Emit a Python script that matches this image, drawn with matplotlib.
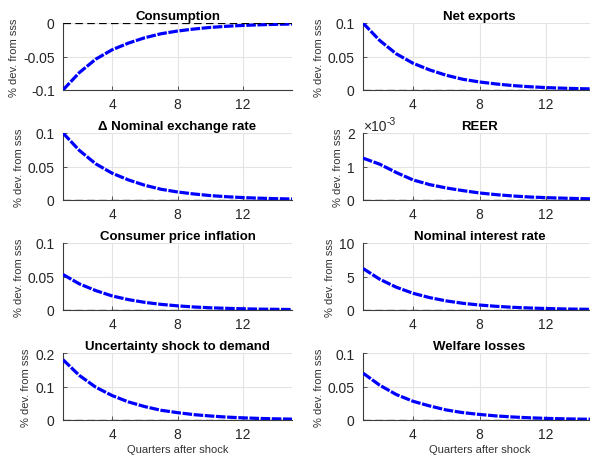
import numpy as np
import matplotlib
matplotlib.use("Agg")
import matplotlib.pyplot as plt
from matplotlib.ticker import FuncFormatter

plt.rcParams['font.family'] = ['Liberation Sans', 'DejaVu Sans']

quarters = np.arange(1, 16)

consumption = [-0.100, -0.074, -0.054, -0.040, -0.030, -0.022, -0.016, -0.012,
               -0.009, -0.0066, -0.0049, -0.0036, -0.0027, -0.0020, -0.0015]
net_exports = [0.100, 0.074, 0.054, 0.040, 0.030, 0.022, 0.016, 0.012,
               0.009, 0.0066, 0.0049, 0.0036, 0.0027, 0.0020, 0.0015]
d_ner = [0.100, 0.074, 0.054, 0.040, 0.030, 0.022, 0.016, 0.012,
         0.009, 0.0066, 0.0049, 0.0036, 0.0027, 0.0020, 0.0015]
reer = [1.25e-3, 1.07e-3, 0.82e-3, 0.60e-3, 0.46e-3, 0.36e-3, 0.28e-3, 0.21e-3,
        0.16e-3, 0.12e-3, 0.09e-3, 0.07e-3, 0.055e-3, 0.042e-3, 0.032e-3]
cpi = [0.053, 0.039, 0.029, 0.021, 0.0155, 0.0114, 0.0084, 0.0062,
       0.0045, 0.0033, 0.0025, 0.0018, 0.0013, 0.0010, 0.0007]
interest = [6.2, 4.6, 3.4, 2.5, 1.85, 1.36, 1.0, 0.74,
            0.55, 0.40, 0.30, 0.22, 0.16, 0.12, 0.09]
uncertainty = [0.18, 0.133, 0.098, 0.073, 0.054, 0.040, 0.029, 0.022,
               0.016, 0.012, 0.0087, 0.0064, 0.0047, 0.0035, 0.0026]
welfare = [0.070, 0.052, 0.038, 0.028, 0.021, 0.015, 0.011, 0.0083,
           0.0061, 0.0045, 0.0033, 0.0024, 0.0018, 0.0013, 0.0010]

titles = ['Consumption', 'Net exports', '\u0394 Nominal exchange rate', 'REER',
          'Consumer price inflation', 'Nominal interest rate',
          'Uncertainty shock to demand', 'Welfare losses']
series = [consumption, net_exports, d_ner, reer, cpi, interest, uncertainty, welfare]
ylims = [(-0.1, 0), (0, 0.1), (0, 0.1), (0, 2e-3), (0, 0.1), (0, 10), (0, 0.2), (0, 0.1)]
yticks = [[-0.1, -0.05, 0], [0, 0.05, 0.1], [0, 0.05, 0.1], [0, 1e-3, 2e-3],
          [0, 0.05, 0.1], [0, 5, 10], [0, 0.1, 0.2], [0, 0.05, 0.1]]

W, H = 590, 456
fig = plt.figure(figsize=(W / 100, H / 100), dpi=100)

col_left = [63, 363]
col_width = [229, 233]
row_top = [24, 134, 244, 354]
row_h = 67

for i in range(8):
    r, c = divmod(i, 2)
    ax = fig.add_axes([col_left[c] / W, 1 - (row_top[r] + row_h) / H,
                       col_width[c] / W, row_h / H])
    ax.plot(quarters, series[i], color='#0000ff', lw=2.3, dashes=(3.0, 0.5),
            solid_capstyle='butt', zorder=3)
    ax.axhline(0, color='black', lw=0.9, dashes=(6, 3.5), zorder=4)
    ax.set_xlim(1, 15)
    ax.set_ylim(*ylims[i])
    ax.set_xticks([4, 8, 12])
    ax.set_yticks(yticks[i])
    if i == 3:
        ax.yaxis.set_major_formatter(FuncFormatter(lambda v, p: '{:g}'.format(round(v * 1000, 6))))
        ax.text(0.0, 1.0, '\u00d710', transform=ax.transAxes, fontsize=10,
                color='#262626', ha='left', va='bottom')
        ax.text(0.1, 1.1, '-3', transform=ax.transAxes, fontsize=7.5,
                color='#262626', ha='left', va='bottom')
    else:
        ax.yaxis.set_major_formatter(FuncFormatter(lambda v, p: '{:g}'.format(round(v, 6))))
    ax.grid(True, color='#e3e3e3', lw=0.8)
    ax.set_axisbelow(True)
    for s in ['top', 'right']:
        ax.spines[s].set_visible(False)
    for s in ['left', 'bottom']:
        ax.spines[s].set_color('#3c3c3c')
        ax.spines[s].set_linewidth(0.8)
    ax.tick_params(direction='in', length=3, width=0.6, colors='#3c3c3c',
                   labelsize=10, labelcolor='#262626')
    ax.tick_params(axis='y', pad=6)
    ax.tick_params(axis='x', pad=5)
    ax.set_title(titles[i], fontsize=9.5, fontweight='bold', pad=3)
    ax.set_ylabel('% dev. from sss', fontsize=8, color='#333333', labelpad=3)
    if r == 3:
        ax.set_xlabel('Quarters after shock', fontsize=8, color='#333333', labelpad=2)

fig.savefig('out.png', dpi=100)
